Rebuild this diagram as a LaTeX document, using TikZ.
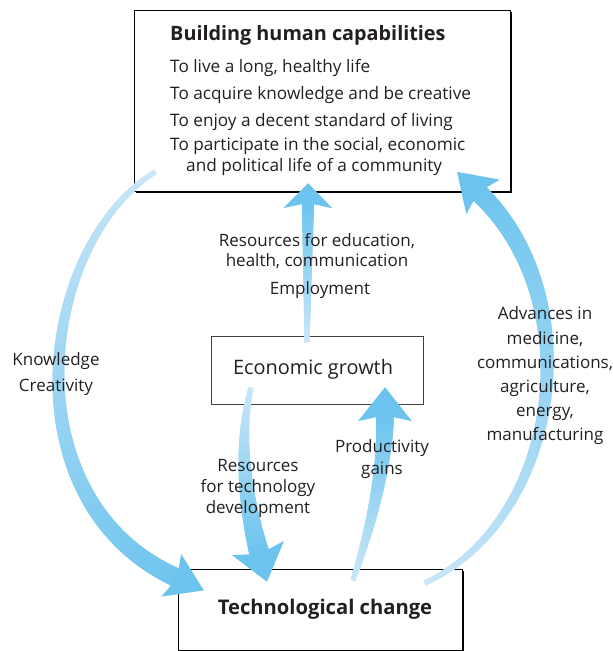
\documentclass[tikz,border=0pt]{standalone}
\usepackage{fontspec}
\setmainfont{Open Sans}
\usetikzlibrary{decorations.markings,calc}
\definecolor{txt}{HTML}{231F20}
\definecolor{arrL}{RGB}{202,230,248}
\definecolor{arrD}{RGB}{108,196,238}
\tikzset{
  taper/.style n args={4}{
    postaction={decorate,decoration={markings,
      mark=between positions 0 and 1 step 0.6pt with {
        \pgfmathsetmacro\tpf{\pgfkeysvalueof{/pgf/decoration/mark info/distance from start}/\pgfdecoratedpathlength}
        \pgfmathsetmacro\tpr{(#1+(#2-#1)*\tpf)/2}
        \pgfmathtruncatemacro\tpc{100*\tpf}
        \fill[arrD!\tpc!arrL] (-0.7pt,-\tpr pt) -- (0.7pt,-\tpr pt) -- (0.7pt,\tpr pt) -- (-0.7pt,\tpr pt) -- cycle;
      }}},
    postaction={decorate,decoration={markings,
      mark=at position -0.2pt with {
        \pgfmathsetmacro\tph{#3/2}
        \pgfmathsetmacro\tpw{#2/2}
        \fill[arrD] (#4 pt,0pt) -- (-4pt,\tph pt) -- (0pt,\tpw pt) -- (-0.5pt,\tpw pt) -- (-0.5pt,-\tpw pt) -- (0pt,-\tpw pt) -- (-4pt,-\tph pt) -- cycle;
      }}}
  },
  bigbox/.style={draw=black, line width=1pt, inner sep=0pt},
  smallbox/.style={draw=black!75, line width=0.8pt, inner sep=0pt},
  shadowline/.style={draw=black, line width=1.4pt},
  body/.style={text=txt, font=\fontsize{17.2}{20}\selectfont, inner sep=0pt},
  lbl/.style={text=txt, font=\fontsize{17}{21.5}\selectfont, align=center, inner sep=0pt},
  title/.style={text=txt, font=\fontsize{19.8}{23}\selectfont\bfseries, inner sep=0pt}
}
\begin{document}
\begin{tikzpicture}[x=1pt,y=-1pt]
\useasboundingbox (0,0) rectangle (613,651);
% boxes
\node[bigbox, minimum width=376pt, minimum height=181pt] (cap) at (322,100.5) {};
\draw[shadowline] ($(cap.north east)+(1,2)$) -- ($(cap.south east)+(1,1)$) -- ($(cap.south west)+(2,1)$);
\node[smallbox, minimum width=212pt, minimum height=68pt] (eco) at (317,370) {};
\node[bigbox, minimum width=284pt, minimum height=81pt] (tec) at (320,609.5) {};
\draw[shadowline] ($(tec.north east)+(1,2)$) -- ($(tec.south east)+(1,0)$);
% arrow end points
\coordinate (a1s) at (155,172);
\coordinate (a1e) at (175,577);
\coordinate (a2s) at (307,342);
\coordinate (a2e) at (308,204);
\coordinate (a3s) at (251,388);
\coordinate (a3e) at (259,552);
\coordinate (a4s) at (353,580);
\coordinate (a4e) at (385,417);
\coordinate (a5s) at (425,583);
\coordinate (a5e) at (480,194);
% arrows
\path[taper={5}{19}{47}{32}] (a1s) .. controls (38,245) and (8,500) .. (a1e);
\path[taper={5}{12}{49}{21}] (a2s) -- (a2e);
\path[taper={5}{20}{54}{31}] (a3s) .. controls (238,440) and (245,500) .. (a3e);
\path[taper={5}{18}{54}{30}] (a4s) .. controls (370,530) and (385,470) .. (a4e);
\path[taper={5}{19}{48}{32}] (a5s) .. controls (560,520) and (590,300) .. (a5e);
% texts in top box
\node[title, anchor=base west] (t0) at (170,40.5) {Building human capabilities};
\node[body, anchor=base west] (t1) at (170,72.7) {To live a long, healthy life};
\node[body, anchor=base west] (t2) at (170,99.3) {To acquire knowledge and be creative};
\node[body, anchor=base west] (t3) at (170,126) {To enjoy a decent standard of living};
\node[body, anchor=base west] (t4) at (170,150) {To participate in the social, economic};
\node[body, anchor=base west] (t5) at (186,171.7) {and political life of a community};
% labels
\node[text=txt, font=\fontsize{19.9}{23}\selectfont, inner sep=0pt] (ecot) at (313,369) {Economic growth};
\node[title, font=\fontsize{20.2}{23}\selectfont\bfseries] (tect) at (325,609) {Technological change};
\node[lbl, font=\fontsize{17}{26}\selectfont] (l1) at (56,374) {Knowledge\\Creativity};
\node[lbl, font=\fontsize{17}{20}\selectfont] (l2) at (317,251) {Resources for education,\\health, communication};
\node[lbl] (l3) at (320,290) {Employment};
\node[lbl, font=\fontsize{17}{24.2}\selectfont] (l4) at (545,376) {Advances in\\medicine,\\communications,\\agriculture,\\energy,\\manufacturing};
\node[lbl, font=\fontsize{17}{21}\selectfont] (l5) at (258,488) {Resources\\for technology\\development};
\node[lbl] (l6) at (382,459) {Productivity\\gains};
\end{tikzpicture}
\end{document}
